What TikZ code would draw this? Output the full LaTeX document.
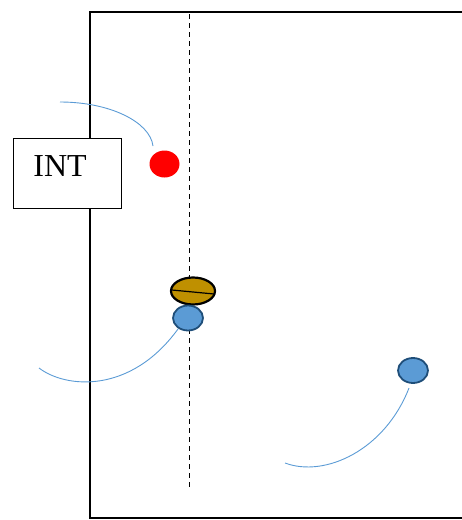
\documentclass[tikz,border=0pt]{standalone}
\usepackage{fontspec}
\setmainfont{Liberation Serif}
\usetikzlibrary{shapes.geometric,calc}
\definecolor{lineblue}{HTML}{5B9BD5}
\definecolor{ballblue}{HTML}{5B9BD5}
\definecolor{darkblue}{HTML}{1F4E79}
\definecolor{gold}{HTML}{BF9000}
\begin{document}
\begin{tikzpicture}[x=1pt,y=-1pt,
  frame/.style={line width=2.3pt,black},
  path/.style={lineblue,line width=0.9pt},
  player/.style={ellipse,draw=darkblue,fill=ballblue,line width=1.8pt,minimum width=30pt,minimum height=25pt,inner sep=0pt},
  ballshape/.style={ellipse,draw=black,fill=gold,line width=2.2pt,minimum width=44pt,minimum height=27pt,inner sep=0pt},
  intbox/.style={draw=black,fill=white,line width=0.8pt,minimum width=108pt,minimum height=70pt,inner sep=0pt},
  inttext/.style={inner sep=0pt,font=\fontsize{32}{32}\selectfont}]
\useasboundingbox (0,0) rectangle (462,520);
% frame
\draw[frame] (470,12) -- (90,12) -- (90,518) -- (470,518);
% dashed line
\coordinate (dtop) at (189,14);
\coordinate (dbot) at (189,487);
\draw[black,line width=0.8pt,dash pattern=on 5pt off 4pt] (dtop) -- (dbot);
% INT box
\node[intbox] (int) at (67,173) {};
\node[inttext] (intlabel) at (60,166) {INT};
% red dot
\node[ellipse,fill=red,minimum width=30pt,minimum height=27pt,inner sep=0pt] (red) at (164.5,164) {};
% ball
\node[ballshape] (ball) at (193,291) {};
\draw[black,line width=1.2pt] ($(ball.west)+(2,-1)$) -- ($(ball.east)+(-2,3)$);
% players
\node[player] (p1) at (188,318) {};
\node[player] (p2) at (413,370.5) {};
% curves
\coordinate (c1s) at (60,102);
\coordinate (c1e) at (153,146);
\draw[path] (c1s) .. controls (110,102) and (150,122) .. (c1e);
\coordinate (c2s) at (39,368);
\coordinate (c2e) at (178,329);
\draw[path] (c2s) .. controls (65,388) and (130,395) .. (c2e);
\coordinate (c3s) at (285,463);
\coordinate (c3e) at (409,388);
\draw[path] (c3s) .. controls (325,478) and (385,450) .. (c3e);
\end{tikzpicture}
\end{document}
